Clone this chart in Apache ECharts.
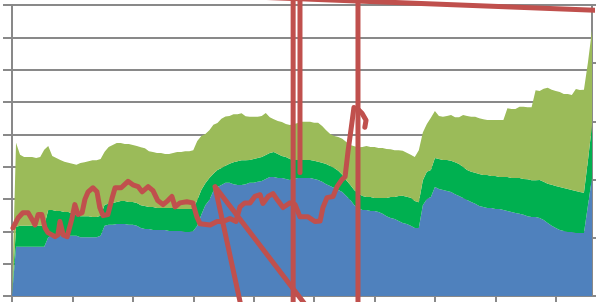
<!DOCTYPE html>
<html>
<head>
<meta charset="utf-8">
<script src="https://cdn.jsdelivr.net/npm/echarts@6/dist/echarts.min.js"></script>
<style>
  html, body { margin: 0; padding: 0; background: #fff; }
  #chart { width: 596px; height: 302px; }
</style>
</head>
<body>
<div id="chart"></div>
<script>
// stacked areas, one value per category (left axis 0-90)
const blueVals = [0, 15.2, 15.2, 15.2, 15.2, 15.2, 15.2, 15.2, 15.2, 18.2,
  18.6, 18.6, 18.6, 18.6, 18.6, 18.6, 18.6, 18.2, 18.2, 18.2,
  18.2, 18.2, 18.6, 21.7, 22.0, 22.0, 22.3, 22.3, 22.3, 22.0,
  22.0, 21.7, 21.0, 20.7, 20.7, 20.4, 20.4, 20.4, 20.4, 20.1,
  20.1, 20.1, 20.1, 19.8, 19.8, 20.1, 21.7, 25.1, 28.1, 29.7,
  32.5, 33.7, 34.3, 35.0, 35.0, 34.6, 34.3, 34.3, 34.6, 35.0,
  35.0, 35.3, 35.6, 36.2, 36.8, 36.8, 36.5, 36.5, 36.2, 35.9,
  36.2, 36.5, 36.5, 36.5, 36.5, 36.2, 35.9, 35.3, 34.6, 34.0,
  33.4, 32.8, 32.2, 30.9, 29.7, 28.1, 27.2, 26.6, 26.6, 26.3,
  26.3, 26.0, 25.4, 24.7, 24.1, 23.8, 23.2, 22.6, 22.3, 21.7,
  21.0, 21.0, 28.1, 30.0, 30.6, 33.7, 33.1, 32.8, 32.5, 32.2,
  31.5, 30.9, 30.3, 29.7, 29.1, 28.5, 27.8, 27.5, 27.2, 27.2,
  26.9, 26.9, 26.6, 26.3, 26.0, 25.7, 25.4, 25.1, 24.7, 24.4,
  24.4, 24.1, 23.5, 22.6, 21.7, 21.0, 20.4, 20.1, 19.8, 19.8,
  19.5, 19.5, 19.5, 28.1, 36.5];

const darkGreenVals = [0, 6.2, 6.5, 6.5, 6.5, 6.5, 6.5, 6.5, 6.5, 8.4,
  8.0, 7.7, 7.7, 7.4, 7.4, 6.8, 6.5, 6.5, 6.5, 6.5,
  6.2, 6.2, 6.2, 6.5, 6.5, 6.8, 6.8, 7.1, 7.1, 7.1,
  7.1, 7.1, 7.1, 7.1, 6.8, 7.1, 6.8, 6.8, 6.8, 7.1,
  7.1, 6.8, 6.8, 7.1, 7.1, 6.8, 8.0, 7.7, 6.8, 6.8,
  5.3, 5.3, 5.3, 5.3, 5.9, 6.8, 7.4, 7.7, 7.4, 7.1,
  7.4, 7.4, 7.4, 7.4, 7.4, 7.7, 7.4, 6.8, 6.8, 6.5,
  5.9, 5.6, 5.6, 5.6, 5.6, 5.6, 5.6, 5.9, 6.2, 6.2,
  6.2, 5.9, 5.3, 4.9, 4.6, 4.6, 4.6, 4.3, 4.0, 4.3,
  4.0, 4.3, 4.9, 5.6, 6.5, 6.8, 7.7, 8.4, 8.4, 8.7,
  8.4, 8.0, 7.7, 8.4, 8.4, 9.0, 9.3, 9.3, 9.6, 9.6,
  9.9, 9.9, 9.6, 9.3, 9.3, 9.6, 9.9, 9.9, 10.2, 9.9,
  10.2, 9.9, 10.2, 10.5, 10.5, 10.8, 11.1, 11.1, 11.4, 11.4,
  11.4, 11.8, 11.8, 12.1, 12.7, 13.0, 13.3, 13.3, 13.3, 13.0,
  13.0, 12.7, 12.4, 13.9, 16.4];

const lightGreenVals = [0, 26.0, 22.0, 21.3, 21.3, 21.3, 21.0, 21.3, 23.5, 19.8,
  16.7, 16.4, 15.8, 15.5, 15.2, 15.5, 15.5, 16.4, 16.7, 17.0,
  17.6, 17.6, 17.6, 16.4, 17.6, 17.9, 18.2, 17.9, 17.6, 17.9,
  17.6, 17.6, 17.9, 17.9, 17.3, 17.0, 17.0, 17.0, 16.7, 16.7,
  17.0, 17.6, 17.6, 17.9, 17.9, 18.2, 18.2, 16.7, 15.2, 14.8,
  15.2, 14.5, 15.2, 15.2, 14.8, 14.8, 14.5, 14.5, 13.6, 13.3,
  13.0, 12.7, 12.7, 13.0, 11.1, 10.2, 10.2, 10.5, 10.2, 10.5,
  11.1, 11.4, 11.8, 11.8, 11.8, 11.8, 12.1, 11.4, 10.5, 9.9,
  9.9, 10.5, 11.1, 11.8, 12.4, 13.6, 14.2, 15.2, 15.8, 15.5,
  15.8, 15.5, 15.5, 15.2, 14.8, 14.5, 14.2, 13.9, 13.6, 13.3,
  13.6, 16.1, 14.8, 14.8, 16.1, 14.5, 13.3, 13.3, 13.6, 14.2,
  13.9, 14.5, 16.1, 16.7, 17.0, 17.3, 17.3, 17.3, 17.0, 17.3,
  17.3, 17.6, 17.6, 21.3, 21.3, 21.3, 22.0, 22.3, 22.3, 22.6,
  27.8, 27.5, 28.8, 29.7, 29.4, 29.4, 29.4, 29.1, 29.4, 29.4,
  31.5, 31.5, 31.9, 30.3, 29.4];

// red line: [x, y] on the secondary axes (x 0-144, right axis 0-50)
const redMain = [[0.25, 11.7], [1.5, 13.4], [2.7, 14.3], [4.0, 14.3], [5.2, 12.9],
  [5.7, 12.2], [6.5, 14.0], [7.4, 14.0], [8.2, 11.7], [8.9, 10.9],
  [10.7, 10.2], [11.4, 10.5], [11.9, 12.8], [12.7, 10.5], [13.7, 10.2],
  [14.9, 13.4], [15.6, 15.7], [16.4, 14.0], [17.4, 14.3], [18.1, 16.6],
  [18.9, 17.9], [20.1, 18.6], [21.1, 17.9], [21.8, 15.2], [22.6, 13.8],
  [23.8, 14.0], [24.8, 16.7], [25.6, 18.6], [27.1, 18.6], [28.8, 19.7],
  [30.0, 19.1], [31.3, 18.8], [32.3, 17.9], [33.8, 18.8], [35.0, 18.1],
  [36.2, 16.4], [37.5, 15.7], [38.7, 16.4], [39.7, 17.1], [40.5, 15.3],
  [41.7, 16.0], [43.4, 16.2], [44.9, 16.0], [45.9, 13.6], [46.7, 12.4],
  [49.2, 12.2], [50.9, 12.8], [52.4, 12.8], [54.1, 13.3], [55.6, 12.8],
  [56.6, 15.3], [57.8, 16.0], [59.1, 16.0], [60.3, 17.1], [61.6, 17.4],
  [62.3, 15.9], [63.6, 17.1], [64.8, 17.6], [66.0, 16.4], [67.3, 15.2],
  [69.0, 16.0], [70.3, 15.7], [71.5, 13.6], [73.5, 13.6], [75.2, 12.8],
  [76.5, 12.9], [77.2, 15.2], [78.2, 16.9], [79.7, 17.1], [80.7, 18.8],
  [81.9, 20.0], [82.7, 20.5], [83.4, 24.7], [84.4, 29.8], [84.9, 32.4],
  [85.9, 32.1], [86.9, 31.4], [87.9, 30.2], [87.6, 29.0]];
const redDiag = [[57.6, -4.1], [50.4, 18.8], [75.7, -4.1]];
const redDrop1 = [[69.8, -4.1], [69.8, 54.5]];
const redDrop2 = [[71.5, 21.2], [71.5, 54.5]];
const redDrop3 = [[85.9, 54.5], [85.9, -4.1]];
const redTop = [[21.8, 52.4], [155.9, 48.8]];

const categories = blueVals.map((v, i) => String(i + 1));

const chart = echarts.init(document.getElementById("chart"));

const gray = "#898989";
const redStyle = { color: "#c0504d", width: 5, cap: "round", join: "round" };

function redSeries(data) {
  return {
    type: "line",
    xAxisIndex: 1,
    yAxisIndex: 1,
    data: data,
    symbol: "none",
    clip: false,
    lineStyle: redStyle,
    itemStyle: { color: "#c0504d" },
    z: 5,
  };
}

function areaSeries(data, color) {
  return {
    type: "line",
    stack: "total",
    data: data,
    symbol: "none",
    lineStyle: { width: 0 },
    areaStyle: { color: color, opacity: 1 },
    itemStyle: { color: color },
  };
}

chart.setOption({
  animation: false,
  grid: { left: 12, right: 4, top: 5, bottom: 6 },
  xAxis: [
    {
      type: "category",
      data: categories,
      boundaryGap: false,
      axisLine: { lineStyle: { color: gray, width: 2 } },
      axisTick: { show: true, interval: 14, length: 6, lineStyle: { color: gray, width: 2 } },
      axisLabel: { show: false },
      splitLine: { show: false },
    },
    {
      type: "value",
      min: 0,
      max: 144,
      show: false,
    },
  ],
  yAxis: [
    {
      type: "value",
      min: 0,
      max: 90,
      interval: 10,
      axisLine: { show: true, lineStyle: { color: gray, width: 2 } },
      axisTick: { show: true, length: 9, lineStyle: { color: gray, width: 2 } },
      axisLabel: { show: false },
      splitLine: { show: true, lineStyle: { color: gray, width: 2 } },
    },
    {
      type: "value",
      min: 0,
      max: 50,
      interval: 10,
      position: "right",
      axisLine: { show: true, lineStyle: { color: gray, width: 2 } },
      axisTick: { show: true, length: 5, lineStyle: { color: gray, width: 2 } },
      axisLabel: { show: false },
      splitLine: { show: false },
    },
  ],
  series: [
    areaSeries(blueVals, "#4f81bd"),
    areaSeries(darkGreenVals, "#00b050"),
    areaSeries(lightGreenVals, "#9bbb59"),
    redSeries(redMain),
    redSeries(redDiag),
    redSeries(redDrop1),
    redSeries(redDrop2),
    redSeries(redDrop3),
    redSeries(redTop),
  ],
});
</script>
</body>
</html>
